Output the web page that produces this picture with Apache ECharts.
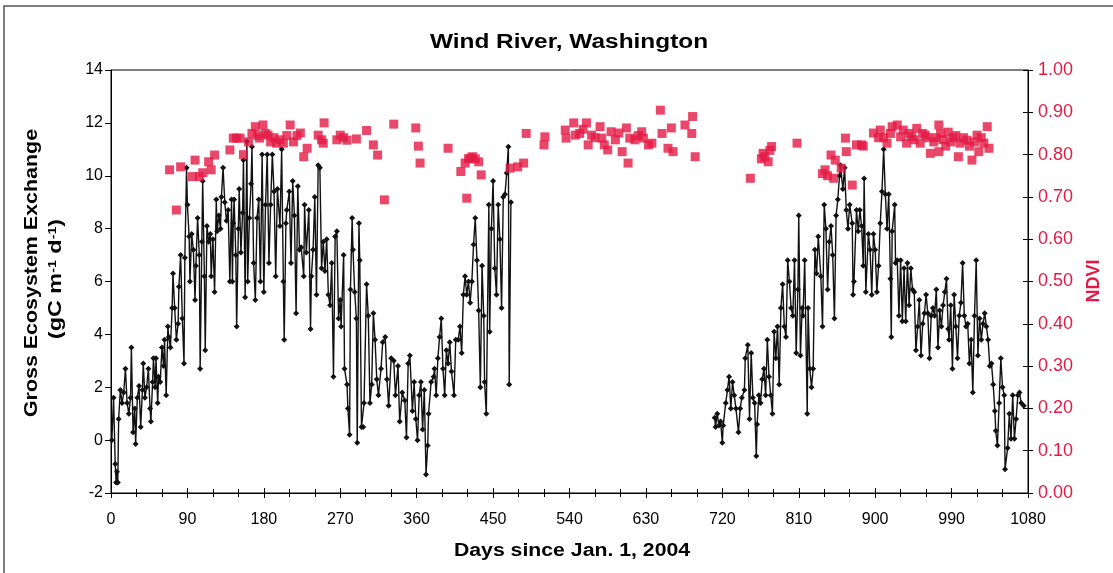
<!DOCTYPE html>
<html>
<head>
<meta charset="utf-8">
<script src="https://cdn.jsdelivr.net/npm/echarts@6/dist/echarts.min.js"></script>
<style>
  html, body { margin: 0; padding: 0; background: #fff; }
  #chart { width: 1113px; height: 573px; }
</style>
</head>
<body>
<div id="chart"></div>
<script>
// GEE, daily values, [day, gC m-2 d-1]
const gee2004 = [
  [1, 0.0], [3, 1.6], [5, -0.9], [6, -1.6], [7, -1.2], [8, -1.6], [9, 0.8], [11, 1.9], [13, 1.4], [15, 1.8],
  [17, 2.7], [19, 1.4], [21, 1.0], [23, 1.6], [24, 3.5], [26, 0.3], [28, 1.2], [29, -0.15], [31, 1.6], [33, 2.05],
  [35, 0.5], [37, 1.9], [38, 2.9], [40, 1.6], [42, 2.0], [44, 2.7], [46, 1.2], [47, 0.7], [49, 2.2], [50, 3.1],
  [52, 2.0], [53, 3.1], [55, 1.4], [56, 2.4], [58, 2.2], [60, 3.5], [62, 2.8], [63, 3.8], [65, 1.7], [67, 4.3],
  [68, 3.9], [70, 3.5], [72, 5.0], [73, 6.3], [75, 5.0], [77, 3.8], [79, 4.4], [80, 5.8], [82, 7.0], [84, 4.6],
  [86, 2.9], [87, 6.9], [89, 10.3], [90, 8.9], [92, 7.7], [93, 6.0], [95, 7.8], [97, 7.2], [99, 5.3], [100, 6.6],
  [102, 8.4], [104, 7.0], [105, 2.7], [107, 7.5], [108, 9.8], [110, 6.2], [111, 3.4], [113, 8.1], [115, 7.5], [117, 7.8],
  [118, 6.2], [120, 7.6], [122, 5.6], [124, 9.1], [125, 7.9], [127, 8.5], [129, 8.0], [130, 9.2], [132, 10.3], [134, 9.0],
  [136, 8.3], [138, 8.7], [140, 6.0], [142, 9.1], [143, 6.0], [144, 8.2], [145, 9.1], [147, 7.0], [148, 4.3], [150, 8.0],
  [151, 9.5], [153, 7.1], [155, 8.6], [156, 10.6], [158, 5.4], [160, 11.3], [161, 6.0], [163, 8.4], [165, 9.7], [166, 11.1],
  [168, 6.7], [170, 5.3], [172, 8.4], [174, 9.1], [176, 6.0], [178, 10.8], [180, 5.6], [182, 8.9], [184, 10.8], [186, 6.7],
  [188, 8.9], [190, 10.8], [192, 9.4], [194, 6.2], [196, 9.5], [199, 8.1], [201, 11.0], [203, 6.0], [204, 3.8], [206, 8.2],
  [207, 8.7], [210, 9.4], [212, 6.7], [214, 9.8], [216, 8.5], [218, 4.8], [220, 9.6], [222, 7.2], [224, 7.3], [227, 6.2],
  [228, 8.9], [230, 7.1], [233, 8.7], [235, 4.2], [236, 6.2], [238, 7.2], [240, 9.2], [242, 5.5], [244, 10.4], [246, 10.3],
  [248, 6.5], [250, 7.5], [252, 6.4], [254, 7.6], [256, 5.5], [258, 5.1], [260, 6.7], [262, 2.4], [264, 7.7], [266, 7.9],
  [268, 4.6], [270, 5.3], [271, 4.3], [274, 7.0], [275, 2.7], [278, 2.1], [279, 1.2], [281, 0.2], [282, 5.7], [284, 8.4],
  [285, 7.2], [287, 5.6], [289, 4.6], [290, -0.1], [292, 8.2], [293, 6.8], [295, 0.5], [297, 0.5], [298, 1.4], [301, 5.9],
  [303, 4.7], [305, 1.4], [307, 2.1], [309, 4.8], [311, 3.8], [313, 2.3], [315, 1.7], [318, 2.7], [320, 3.7], [323, 3.9],
  [325, 2.3], [327, 1.3], [330, 3.1], [333, 3.0], [335, 1.7], [338, 2.8], [340, 0.7], [343, 1.8], [346, 1.5], [348, 0.1],
  [350, 2.9], [352, 3.2], [355, 1.1], [357, 2.2], [359, 0.8], [361, 0.0], [363, 1.7], [365, 2.2], [367, 0.4], [369, 1.9],
  [371, -1.3], [373, -0.2], [374, 1.0], [377, 2.2], [380, 2.4], [381, 2.7], [383, 1.7], [385, 3.1], [387, 3.9], [389, 4.6],
  [391, 2.7], [393, 1.7], [395, 3.4], [397, 2.9], [399, 3.7], [401, 2.6], [404, 1.7], [406, 3.8], [409, 3.8], [411, 4.3],
  [413, 3.3], [415, 5.5], [417, 6.2], [419, 5.5], [421, 6.0], [423, 5.2], [425, 6.0], [427, 7.4], [429, 8.4], [431, 6.8],
  [433, 4.9], [435, 2.0], [437, 6.6], [439, 4.7], [440, 2.2], [442, 1.0], [445, 8.9], [446, 4.1], [448, 8.0], [450, 9.8],
  [452, 6.5], [454, 5.5], [456, 8.9], [458, 7.6], [460, 5.0], [462, 9.2], [464, 9.3], [466, 10.1], [468, 11.1], [469, 2.1],
  [471, 9.0]
]

const gee2006 = [
  [711, 0.85], [712, 0.5], [714, 1.0], [716, 0.55], [718, 0.7], [720, -0.1], [721, 0.55], [724, 1.4], [726, 1.9], [728, 2.4],
  [730, 1.2], [732, 2.2], [734, 1.7], [736, 1.2], [739, 0.3], [741, 1.2], [743, 1.6], [746, 1.9], [747, 3.1], [750, 3.6],
  [752, 0.8], [754, 3.3], [756, 1.6], [758, 1.4], [760, -0.6], [761, 0.6], [763, 1.7], [765, 1.4], [767, 2.3], [769, 2.7],
  [771, 1.7], [773, 3.8], [775, 2.4], [777, 1.7], [779, 1.0], [781, 4.1], [783, 3.1], [785, 4.3], [787, 2.1], [789, 5.0],
  [791, 5.9], [793, 4.3], [795, 3.9], [797, 6.8], [799, 6.0], [801, 5.0], [803, 4.7], [805, 6.8], [807, 3.3], [809, 5.7],
  [810, 8.5], [812, 3.2], [814, 5.0], [815, 4.7], [817, 6.8], [820, 1.0], [821, 5.0], [823, 2.7], [825, 2.0], [827, 2.7],
  [829, 7.2], [831, 6.3], [833, 7.7], [836, 6.2], [838, 4.3], [840, 8.9], [842, 8.0], [844, 5.7], [846, 7.5], [848, 8.1],
  [850, 7.0], [852, 4.6], [854, 8.5], [856, 9.1], [858, 10.0], [859, 10.4], [862, 9.5], [864, 10.3], [866, 8.7], [868, 8.0],
  [870, 8.9], [873, 8.2], [874, 5.5], [875, 6.0], [878, 8.7], [880, 7.9], [882, 8.7], [884, 8.1], [886, 6.6], [887, 9.9],
  [889, 5.6], [892, 7.8], [894, 7.2], [896, 5.5], [898, 7.8], [900, 7.2], [902, 5.6], [904, 6.6], [906, 8.2], [908, 9.4],
  [910, 11.0], [912, 9.3], [914, 8.0], [916, 9.3], [918, 6.1], [919, 3.9], [920, 7.9], [923, 8.9], [924, 6.7], [926, 6.8],
  [928, 4.7], [930, 6.8], [932, 4.5], [934, 6.5], [936, 4.5], [938, 6.7], [940, 5.1], [942, 6.5], [944, 5.7], [946, 5.6],
  [948, 3.4], [950, 4.3], [952, 5.3], [954, 3.2], [956, 4.4], [958, 4.8], [960, 5.5], [962, 4.8], [964, 3.1], [966, 4.7],
  [968, 5.0], [970, 4.7], [972, 5.7], [974, 3.5], [976, 4.9], [978, 4.3], [980, 5.1], [982, 5.6], [984, 6.1], [986, 4.2],
  [987, 3.8], [989, 5.1], [991, 2.7], [993, 5.5], [995, 4.3], [997, 3.1], [999, 4.7], [1001, 5.2], [1003, 6.7], [1005, 4.7],
  [1007, 4.3], [1009, 4.4], [1011, 2.9], [1013, 3.8], [1015, 1.8], [1017, 4.7], [1019, 6.8], [1021, 3.2], [1023, 4.6], [1025, 3.8],
  [1027, 4.4], [1029, 4.8], [1031, 4.3], [1033, 3.8], [1035, 2.8], [1037, 2.9], [1039, 2.1], [1041, 1.1], [1042, 0.35], [1044, -0.2],
  [1046, 1.4], [1048, 3.1], [1050, 2.0], [1052, 1.7], [1053, -1.1], [1056, -0.3], [1058, 1.0], [1060, 0.05], [1062, 1.7], [1064, 0.05],
  [1066, 0.8], [1068, 1.7], [1070, 1.8], [1072, 1.4], [1075, 1.3]
]

// NDVI, [day, ndvi]
const ndvi = [
  [69, 0.764], [77, 0.669], [82, 0.771], [96, 0.748], [99, 0.787], [104, 0.748], [108, 0.757], [115, 0.783], [118, 0.764], [122, 0.799],
  [140, 0.811], [144, 0.839], [148, 0.839], [152, 0.839], [156, 0.80], [162, 0.83], [166, 0.85], [170, 0.866], [173, 0.845], [175, 0.839],
  [179, 0.870], [182, 0.85], [185, 0.846], [188, 0.83], [192, 0.84], [195, 0.827], [199, 0.835], [203, 0.827], [207, 0.845], [211, 0.870],
  [215, 0.830], [219, 0.845], [223, 0.851], [227, 0.795], [231, 0.815], [244, 0.846], [248, 0.835], [250, 0.827], [251, 0.875], [266, 0.835],
  [270, 0.846], [274, 0.84], [278, 0.834], [289, 0.837], [301, 0.857], [309, 0.823], [314, 0.799], [322, 0.693], [333, 0.872], [359, 0.863],
  [362, 0.820], [364, 0.780], [397, 0.815], [412, 0.760], [417, 0.780], [419, 0.697], [421, 0.79], [423, 0.792], [426, 0.795], [429, 0.790],
  [433, 0.783], [436, 0.752], [470, 0.768], [479, 0.771], [486, 0.780], [489, 0.850], [510, 0.823], [511, 0.842], [535, 0.858], [536, 0.839],
  [545, 0.875], [547, 0.846], [552, 0.85], [556, 0.86], [560, 0.875], [562, 0.823], [566, 0.846], [570, 0.84], [576, 0.866], [578, 0.839],
  [581, 0.823], [585, 0.811], [589, 0.854], [594, 0.835], [598, 0.851], [602, 0.807], [607, 0.863], [609, 0.780], [611, 0.839], [617, 0.835],
  [621, 0.845], [625, 0.854], [627, 0.839], [633, 0.823], [637, 0.827], [647, 0.905], [649, 0.850], [656, 0.815], [660, 0.863], [662, 0.807],
  [676, 0.870], [684, 0.850], [685, 0.890], [688, 0.795],
  [753, 0.744], [766, 0.79], [768, 0.803], [770, 0.795], [774, 0.783], [776, 0.81], [778, 0.819], [808, 0.827], [838, 0.755], [841, 0.764],
  [844, 0.75], [848, 0.799], [851, 0.744], [853, 0.787], [860, 0.768], [865, 0.839], [866, 0.807], [873, 0.728], [878, 0.823], [884, 0.823],
  [886, 0.820], [898, 0.851], [904, 0.840], [906, 0.858], [910, 0.84], [914, 0.827], [918, 0.85], [920, 0.866], [926, 0.870], [930, 0.842],
  [933, 0.858], [937, 0.827], [940, 0.85], [943, 0.842], [946, 0.835], [949, 0.862], [953, 0.827], [956, 0.85], [959, 0.846], [962, 0.84],
  [965, 0.803], [969, 0.830], [972, 0.84], [975, 0.870], [975, 0.807], [977, 0.850], [980, 0.835], [983, 0.820], [986, 0.853], [989, 0.83],
  [992, 0.840], [995, 0.845], [998, 0.795], [1000, 0.827], [1004, 0.84], [1008, 0.834], [1011, 0.82], [1014, 0.787], [1017, 0.83], [1020, 0.846],
  [1022, 0.807], [1025, 0.84], [1028, 0.827], [1032, 0.866], [1034, 0.815]
]

const FONT = 'Liberation Sans, Arial, sans-serif'
const RED = '#e31a45'

const chart = echarts.init(document.getElementById('chart'))

const lineSeries = (data) => ({
  type: 'line',
  data,
  xAxisIndex: 0,
  yAxisIndex: 0,
  symbol: 'diamond',
  symbolSize: 6,
  showAllSymbol: true,
  lineStyle: { color: '#111', width: 1.4 },
  itemStyle: { color: '#111' },
  z: 2
})

// x axis, two copies so the ticks cross the line
const xAxisBase = {
  type: 'value',
  min: 0,
  max: 1080,
  interval: 90,
  splitLine: { show: false }
}

const option = {
  animation: false,
  backgroundColor: '#fff',
  textStyle: { fontFamily: FONT },
  grid: {
    left: 111,
    right: 85,
    top: 70,
    bottom: 80,
    show: true,
    borderColor: '#000',
    borderWidth: 1
  },
  xAxis: [
    {
      ...xAxisBase,
      axisLine: { onZero: false, lineStyle: { color: '#000', width: 1 } },
      axisTick: { length: 5, lineStyle: { color: '#000' } },
      minorTick: { show: true, splitNumber: 3, length: 4, lineStyle: { color: '#000' } },
      axisLabel: { color: '#000', fontSize: 16, margin: 19, fontFamily: FONT, formatter: (v) => String(v) }
    },
    {
      ...xAxisBase,
      position: 'bottom',
      axisLine: { show: false, onZero: false },
      axisTick: { inside: true, length: 5, lineStyle: { color: '#000' } },
      minorTick: { show: true, splitNumber: 3, length: 4, lineStyle: { color: '#000' } },
      axisLabel: { show: false }
    }
  ],
  yAxis: [
    {
      type: 'value',
      min: -2,
      max: 14,
      interval: 2,
      axisLine: { show: true, onZero: false, lineStyle: { color: '#000' } },
      axisTick: { length: 6, lineStyle: { color: '#000' } },
      axisLabel: { color: '#000', fontSize: 16, margin: 8, fontFamily: FONT },
      splitLine: { show: false }
    },
    {
      type: 'value',
      position: 'right',
      min: 0,
      max: 1,
      interval: 0.1,
      axisLine: { show: true, onZero: false, lineStyle: { color: '#000' } },
      axisTick: { length: 5, lineStyle: { color: '#000' } },
      axisLabel: {
        color: RED,
        fontSize: 18,
        margin: 10,
        fontFamily: FONT,
        formatter: (v) => v.toFixed(2)
      },
      splitLine: { show: false }
    },
    {
      type: 'value',
      position: 'right',
      min: 0,
      max: 1,
      interval: 0.1,
      axisLine: { show: false, onZero: false },
      axisTick: { inside: true, length: 5, lineStyle: { color: '#000' } },
      axisLabel: { show: false },
      splitLine: { show: false }
    }
  ],
  series: [
    lineSeries(gee2004),
    lineSeries(gee2006),
    {
      type: 'scatter',
      data: ndvi,
      xAxisIndex: 0,
      yAxisIndex: 1,
      symbol: 'rect',
      symbolSize: 9,
      itemStyle: { color: RED },
      z: 3
    }
  ],
  graphic: [
    {
      type: 'rect',
      shape: { x: 4, y: 6, width: 1140, height: 600 },
      style: { fill: 'none', stroke: '#555', lineWidth: 1.5 },
      silent: true
    },
    {
      type: 'text',
      x: 569,
      y: 42,
      scaleX: 1.22,
      style: {
        text: 'Wind River, Washington',
        fill: '#000',
        font: 'bold 20px ' + FONT,
        align: 'center',
        verticalAlign: 'middle'
      }
    },
    {
      type: 'text',
      x: 572,
      y: 551,
      scaleX: 1.18,
      style: {
        text: 'Days since Jan. 1, 2004',
        fill: '#000',
        font: 'bold 18px ' + FONT,
        align: 'center',
        verticalAlign: 'middle'
      }
    },
    {
      type: 'text',
      x: 32,
      y: 273,
      rotation: Math.PI / 2,
      scaleX: 1.19,
      style: {
        text: 'Gross Ecosystem Exchange',
        fill: '#000',
        font: 'bold 18px ' + FONT,
        align: 'center',
        verticalAlign: 'middle'
      }
    },
    {
      type: 'text',
      x: 56,
      y: 279,
      rotation: Math.PI / 2,
      scaleX: 1.3,
      style: {
        text: '(gC m{sup|-1} d{sup|-1})',
        fill: '#000',
        font: 'bold 18px ' + FONT,
        align: 'center',
        verticalAlign: 'middle',
        rich: {
          sup: { fontSize: 11, fontWeight: 'bold', verticalAlign: 'top', fontFamily: FONT }
        }
      }
    },
    {
      type: 'text',
      x: 1094,
      y: 281,
      rotation: Math.PI / 2,
      style: {
        text: 'NDVI',
        fill: RED,
        font: 'bold 18px ' + FONT,
        align: 'center',
        verticalAlign: 'middle'
      }
    }
  ]
}

chart.setOption(option)
</script>
</body>
</html>
